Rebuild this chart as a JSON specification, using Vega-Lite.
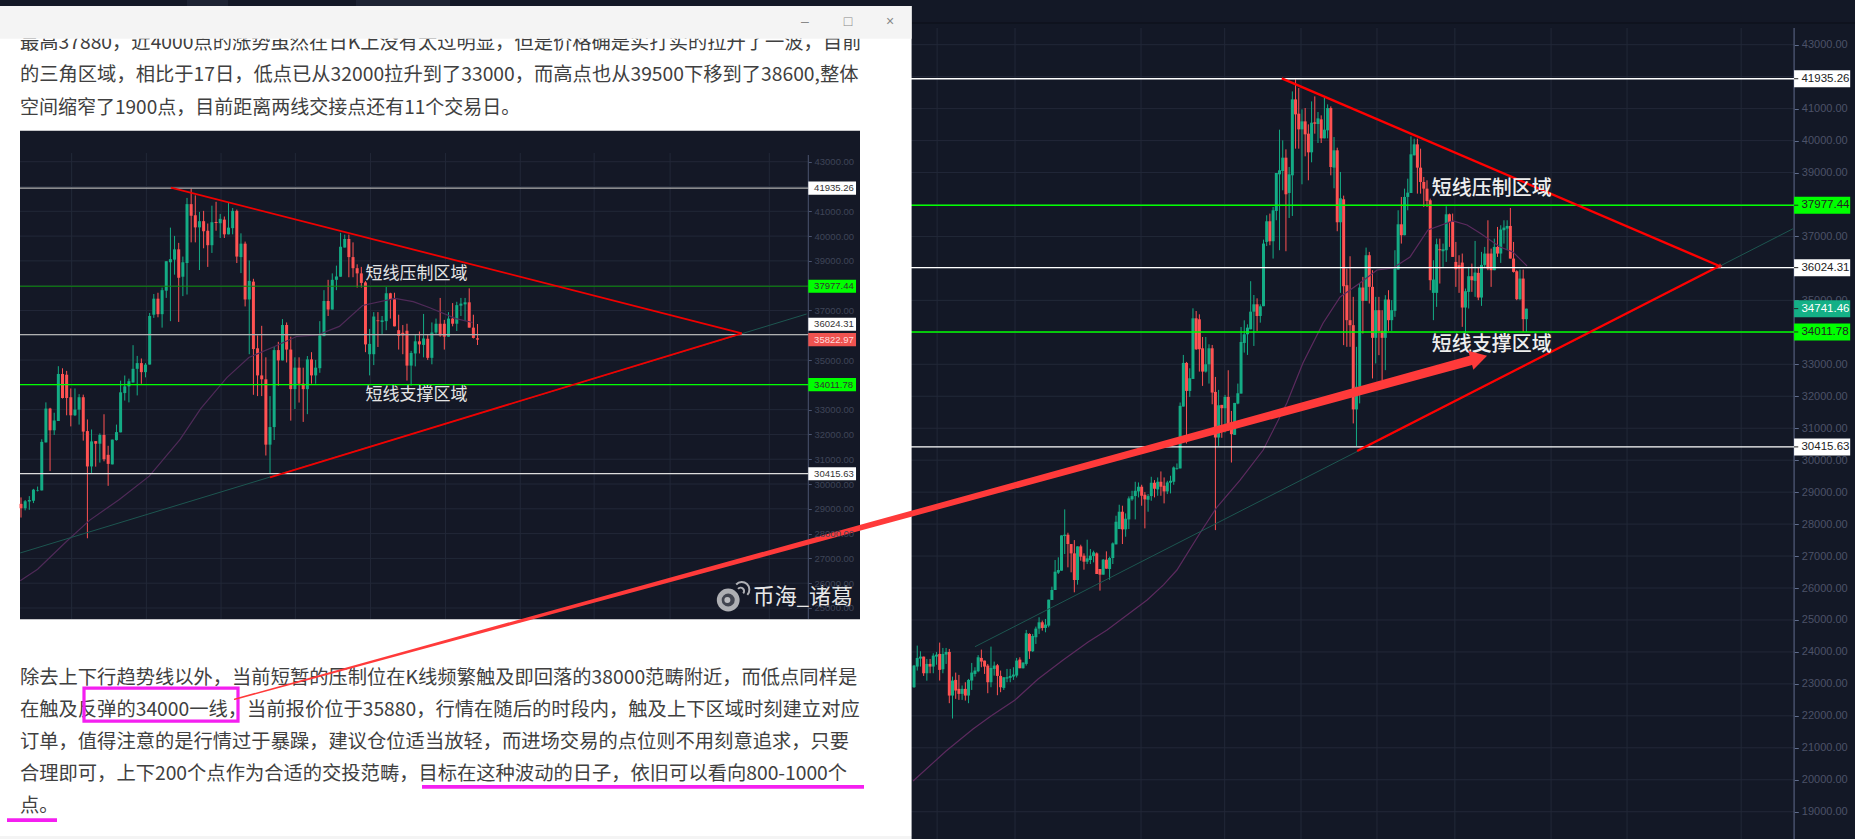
{"$schema":"https://vega.github.io/schema/vega-lite/v6.json","width":1855,"height":839,"padding":0,"autosize":{"type":"none"},"background":"#131826",
"config":{"view":{"stroke":null},"legend":{"disable":true},"text":{"font":"Noto Sans CJK SC"}},
"resolve":{"scale":{"x":"independent","y":"independent"},"axis":{"x":"independent","y":"independent"}},
"datasets":{
"candles":[
{"bar":1,"open":22896,"high":23594,"low":22875,"close":23573,"dir":"up"},{"bar":2,"open":23542,"high":24198,"low":23417,"close":23813,"dir":"up"},{"bar":3,"open":23792,"high":24021,"low":23542,"close":23854,"dir":"up"},{"bar":4,"open":23854,"high":23854,"low":23250,"close":23333,"dir":"down"},{"bar":5,"open":23333,"high":23781,"low":23100,"close":23625,"dir":"up"},{"bar":6,"open":23625,"high":23781,"low":23333,"close":23542,"dir":"down"},{"bar":7,"open":23542,"high":23958,"low":23333,"close":23885,"dir":"up"},{"bar":8,"open":23854,"high":24000,"low":23600,"close":23917,"dir":"up"},{"bar":9,"open":23938,"high":24292,"low":23104,"close":23438,"dir":"down"},{"bar":10,"open":23458,"high":24125,"low":23333,"close":23938,"dir":"up"},
{"bar":11,"open":23917,"high":24125,"low":23625,"close":24000,"dir":"up"},{"bar":12,"open":24000,"high":24094,"low":22396,"close":22635,"dir":"down"},{"bar":13,"open":22635,"high":23229,"low":21917,"close":23104,"dir":"up"},{"bar":14,"open":23125,"high":23354,"low":22531,"close":22792,"dir":"down"},{"bar":15,"open":22844,"high":23281,"low":22500,"close":22688,"dir":"down"},{"bar":16,"open":22688,"high":22950,"low":22500,"close":22844,"dir":"up"},{"bar":17,"open":22844,"high":23052,"low":22479,"close":22635,"dir":"down"},{"bar":18,"open":22635,"high":23156,"low":22396,"close":23125,"dir":"up"},{"bar":19,"open":23104,"high":23656,"low":22812,"close":23354,"dir":"up"},{"bar":20,"open":23312,"high":23521,"low":23229,"close":23417,"dir":"up"},
{"bar":21,"open":23396,"high":23900,"low":23365,"close":23833,"dir":"up"},{"bar":22,"open":23813,"high":24073,"low":23521,"close":23698,"dir":"down"},{"bar":23,"open":23729,"high":23729,"low":23312,"close":23542,"dir":"down"},{"bar":24,"open":23573,"high":23625,"low":22708,"close":23052,"dir":"down"},{"bar":25,"open":23052,"high":24167,"low":22896,"close":23500,"dir":"up"},{"bar":26,"open":23469,"high":23698,"low":23260,"close":23573,"dir":"up"},{"bar":27,"open":23583,"high":23625,"low":22646,"close":23250,"dir":"down"},{"bar":28,"open":23250,"high":23417,"low":22740,"close":22896,"dir":"down"},{"bar":29,"open":22875,"high":23208,"low":22812,"close":23208,"dir":"up"},{"bar":30,"open":23167,"high":23469,"low":23052,"close":23208,"dir":"up"},
{"bar":31,"open":23188,"high":23469,"low":23052,"close":23250,"dir":"up"},{"bar":32,"open":23229,"high":23521,"low":23125,"close":23292,"dir":"up"},{"bar":33,"open":23260,"high":23813,"low":23200,"close":23729,"dir":"up"},{"bar":34,"open":23760,"high":23833,"low":23490,"close":23490,"dir":"down"},{"bar":35,"open":23490,"high":23677,"low":23480,"close":23667,"dir":"up"},{"bar":36,"open":23625,"high":24688,"low":23573,"close":24584,"dir":"up"},{"bar":37,"open":24563,"high":24584,"low":23781,"close":24021,"dir":"down"},{"bar":38,"open":24021,"high":24563,"low":24000,"close":24500,"dir":"up"},{"bar":39,"open":24459,"high":24792,"low":24250,"close":24730,"dir":"up"},{"bar":40,"open":24730,"high":25084,"low":24563,"close":24927,"dir":"up"},
{"bar":41,"open":24927,"high":24980,"low":24667,"close":24750,"dir":"down"},{"bar":42,"open":24750,"high":25032,"low":24615,"close":24855,"dir":"up"},{"bar":43,"open":24823,"high":25636,"low":24771,"close":25636,"dir":"up"},{"bar":44,"open":25626,"high":26042,"low":25626,"close":25938,"dir":"up"},{"bar":45,"open":25938,"high":26876,"low":25938,"close":26511,"dir":"up"},{"bar":46,"open":26480,"high":26960,"low":26438,"close":26563,"dir":"up"},{"bar":47,"open":26543,"high":27647,"low":26543,"close":27647,"dir":"up"},{"bar":48,"open":27626,"high":28460,"low":27064,"close":27668,"dir":"up"},{"bar":49,"open":27668,"high":27730,"low":26647,"close":27376,"dir":"down"},{"bar":50,"open":27376,"high":27376,"low":26490,"close":27084,"dir":"down"},
{"bar":51,"open":27084,"high":27500,"low":25866,"close":26251,"dir":"down"},{"bar":52,"open":26251,"high":27303,"low":26105,"close":27303,"dir":"up"},{"bar":53,"open":27303,"high":27355,"low":26855,"close":26980,"dir":"down"},{"bar":54,"open":27012,"high":27084,"low":26574,"close":26824,"dir":"down"},{"bar":55,"open":26824,"high":27512,"low":26750,"close":26928,"dir":"up"},{"bar":56,"open":26876,"high":27220,"low":26750,"close":27012,"dir":"up"},{"bar":57,"open":27000,"high":27168,"low":26803,"close":27116,"dir":"up"},{"bar":58,"open":27084,"high":27116,"low":26438,"close":26438,"dir":"down"},{"bar":59,"open":26595,"high":26595,"low":25918,"close":26418,"dir":"down"},{"bar":60,"open":26418,"high":26908,"low":26418,"close":26887,"dir":"up"},
{"bar":61,"open":26887,"high":27147,"low":26605,"close":26605,"dir":"down"},{"bar":62,"open":26595,"high":26980,"low":26262,"close":26939,"dir":"up"},{"bar":63,"open":26939,"high":27428,"low":26751,"close":27397,"dir":"up"},{"bar":64,"open":27366,"high":28262,"low":27366,"close":28074,"dir":"up"},{"bar":65,"open":27845,"high":28606,"low":27845,"close":28387,"dir":"up"},{"bar":66,"open":28387,"high":28575,"low":27376,"close":27835,"dir":"down"},{"bar":67,"open":27835,"high":28335,"low":27605,"close":28168,"dir":"up"},{"bar":68,"open":28147,"high":28866,"low":27845,"close":28804,"dir":"up"},{"bar":69,"open":28773,"high":29043,"low":28730,"close":28877,"dir":"up"},{"bar":70,"open":28877,"high":29325,"low":28147,"close":29043,"dir":"up"},
{"bar":71,"open":29023,"high":29304,"low":28835,"close":29169,"dir":"up"},{"bar":72,"open":29169,"high":29231,"low":28575,"close":28887,"dir":"down"},{"bar":73,"open":28918,"high":29002,"low":27866,"close":28773,"dir":"down"},{"bar":74,"open":28763,"high":28939,"low":28387,"close":28877,"dir":"up"},{"bar":75,"open":28877,"high":29481,"low":28731,"close":29294,"dir":"up"},{"bar":76,"open":29294,"high":29377,"low":28835,"close":29106,"dir":"down"},{"bar":77,"open":29085,"high":29460,"low":28887,"close":29325,"dir":"up"},{"bar":78,"open":29325,"high":29648,"low":28887,"close":29169,"dir":"down"},{"bar":79,"open":29200,"high":29460,"low":28648,"close":29023,"dir":"down"},{"bar":80,"open":29023,"high":29356,"low":28939,"close":29304,"dir":"up"},
{"bar":81,"open":29294,"high":29513,"low":28960,"close":29356,"dir":"up"},{"bar":82,"open":29325,"high":29804,"low":29231,"close":29773,"dir":"up"},{"bar":83,"open":29731,"high":29898,"low":29700,"close":29752,"dir":"up"},{"bar":84,"open":29742,"high":31805,"low":29742,"close":31700,"dir":"up"},{"bar":85,"open":31678,"high":33293,"low":31678,"close":33043,"dir":"up"},{"bar":86,"open":33043,"high":33074,"low":30521,"close":32167,"dir":"down"},{"bar":87,"open":32167,"high":32876,"low":31980,"close":32563,"dir":"up"},{"bar":88,"open":32543,"high":34752,"low":32543,"close":34439,"dir":"up"},{"bar":89,"open":34439,"high":34668,"low":33449,"close":33470,"dir":"down"},{"bar":90,"open":34408,"high":34564,"low":32772,"close":33470,"dir":"down"},
{"bar":91,"open":33501,"high":33855,"low":32324,"close":32772,"dir":"down"},{"bar":92,"open":32772,"high":33855,"low":32741,"close":33001,"dir":"up"},{"bar":93,"open":33001,"high":33626,"low":32397,"close":33501,"dir":"up"},{"bar":94,"open":33501,"high":33605,"low":31750,"close":32115,"dir":"down"},{"bar":95,"open":32136,"high":32605,"low":27812,"close":30709,"dir":"down"},{"bar":96,"open":30709,"high":32199,"low":30448,"close":31719,"dir":"up"},{"bar":97,"open":31730,"high":31730,"low":30700,"close":31626,"dir":"down"},{"bar":98,"open":31626,"high":32042,"low":30865,"close":31980,"dir":"up"},{"bar":99,"open":31980,"high":32814,"low":30917,"close":31000,"dir":"down"},{"bar":100,"open":31178,"high":31542,"low":29927,"close":30813,"dir":"down"},
{"bar":101,"open":30792,"high":31792,"low":30792,"close":31792,"dir":"up"},{"bar":102,"open":31771,"high":32397,"low":31750,"close":32094,"dir":"up"},{"bar":103,"open":32084,"high":34168,"low":32084,"close":33699,"dir":"up"},{"bar":104,"open":33668,"high":34376,"low":33366,"close":33939,"dir":"up"},{"bar":105,"open":33939,"high":34251,"low":33293,"close":34147,"dir":"up"},{"bar":106,"open":34095,"high":35600,"low":34095,"close":34647,"dir":"up"},{"bar":107,"open":34647,"high":35168,"low":33574,"close":34877,"dir":"up"},{"bar":108,"open":34877,"high":35064,"low":34043,"close":34512,"dir":"down"},{"bar":109,"open":34512,"high":34877,"low":34303,"close":34814,"dir":"up"},{"bar":110,"open":34818,"high":36900,"low":34818,"close":36777,"dir":"up"},
{"bar":111,"open":36829,"high":37663,"low":36700,"close":37475,"dir":"up"},{"bar":112,"open":37475,"high":37715,"low":36725,"close":36850,"dir":"down"},{"bar":113,"open":36850,"high":37923,"low":36308,"close":37819,"dir":"up"},{"bar":114,"open":37798,"high":38986,"low":37507,"close":38986,"dir":"up"},{"bar":115,"open":38944,"high":40341,"low":36569,"close":39070,"dir":"up"},{"bar":116,"open":39049,"high":40007,"low":38444,"close":39465,"dir":"up"},{"bar":117,"open":39465,"high":39726,"low":36537,"close":38319,"dir":"down"},{"bar":118,"open":38361,"high":39174,"low":37579,"close":38944,"dir":"up"},{"bar":119,"open":38913,"high":41539,"low":37642,"close":41289,"dir":"up"},{"bar":120,"open":41289,"high":41914,"low":39747,"close":40820,"dir":"down"},
{"bar":121,"open":40841,"high":41643,"low":39747,"close":40351,"dir":"down"},{"bar":122,"open":40351,"high":40976,"low":38632,"close":40601,"dir":"up"},{"bar":123,"open":40601,"high":41018,"low":39507,"close":40195,"dir":"down"},{"bar":124,"open":40216,"high":40507,"low":38757,"close":39632,"dir":"down"},{"bar":125,"open":39632,"high":41226,"low":39320,"close":40560,"dir":"up"},{"bar":126,"open":40570,"high":41383,"low":40216,"close":40528,"dir":"down"},{"bar":127,"open":40518,"high":40893,"low":39924,"close":40695,"dir":"up"},{"bar":128,"open":40664,"high":40789,"low":39924,"close":40070,"dir":"down"},{"bar":129,"open":40070,"high":41341,"low":40070,"close":40341,"dir":"up"},{"bar":130,"open":40320,"high":41133,"low":40070,"close":41018,"dir":"up"},
{"bar":131,"open":41018,"high":41070,"low":38913,"close":39174,"dir":"down"},{"bar":132,"open":39153,"high":40111,"low":38507,"close":39695,"dir":"up"},{"bar":133,"open":39695,"high":39778,"low":37163,"close":37444,"dir":"down"},{"bar":134,"open":37444,"high":39018,"low":35235,"close":38194,"dir":"up"},{"bar":135,"open":38163,"high":38278,"low":33599,"close":35443,"dir":"down"},{"bar":136,"open":35475,"high":35996,"low":33547,"close":34381,"dir":"down"},{"bar":137,"open":34381,"high":36381,"low":33547,"close":34224,"dir":"down"},{"bar":138,"open":34224,"high":35110,"low":31150,"close":31588,"dir":"down"},{"bar":139,"open":31588,"high":33547,"low":30442,"close":32297,"dir":"up"},{"bar":140,"open":32297,"high":35527,"low":31776,"close":35402,"dir":"up"},
{"bar":141,"open":35402,"high":35735,"low":33964,"close":34985,"dir":"down"},{"bar":142,"open":34985,"high":36652,"low":34985,"close":36413,"dir":"up"},{"bar":143,"open":36413,"high":36517,"low":34902,"close":35423,"dir":"down"},{"bar":144,"open":35423,"high":35944,"low":32557,"close":33828,"dir":"down"},{"bar":145,"open":33828,"high":35110,"low":33026,"close":34693,"dir":"up"},{"bar":146,"open":34693,"high":35110,"low":33286,"close":34047,"dir":"down"},{"bar":147,"open":34047,"high":34693,"low":32505,"close":33828,"dir":"down"},{"bar":148,"open":33828,"high":35162,"low":32817,"close":35027,"dir":"up"},{"bar":149,"open":35027,"high":35318,"low":34047,"close":34381,"dir":"down"},{"bar":150,"open":34381,"high":35006,"low":34047,"close":34693,"dir":"up"},
{"bar":151,"open":34672,"high":36569,"low":34485,"close":35996,"dir":"up"},{"bar":152,"open":35964,"high":37819,"low":35964,"close":37381,"dir":"up"},{"bar":153,"open":37381,"high":38236,"low":36777,"close":37038,"dir":"down"},{"bar":154,"open":37038,"high":38496,"low":37038,"close":38236,"dir":"up"},{"bar":155,"open":38236,"high":38809,"low":37819,"close":38371,"dir":"up"},{"bar":156,"open":38361,"high":40132,"low":38361,"close":39570,"dir":"up"},{"bar":157,"open":39538,"high":40059,"low":39538,"close":39882,"dir":"up"},{"bar":158,"open":39882,"high":40059,"low":38340,"close":39153,"dir":"down"},{"bar":159,"open":39153,"high":39747,"low":38340,"close":38705,"dir":"down"},{"bar":160,"open":38705,"high":38861,"low":37923,"close":38496,"dir":"down"},
{"bar":161,"open":38496,"high":38757,"low":37923,"close":38111,"dir":"down"},{"bar":162,"open":38132,"high":38184,"low":35318,"close":35631,"dir":"down"},{"bar":163,"open":35235,"high":36256,"low":34381,"close":35652,"dir":"up"},{"bar":164,"open":35235,"high":36933,"low":34797,"close":36756,"dir":"up"},{"bar":165,"open":36600,"high":36933,"low":35527,"close":36569,"dir":"down"},{"bar":166,"open":36537,"high":36777,"low":36048,"close":36600,"dir":"up"},{"bar":167,"open":36569,"high":37944,"low":36204,"close":37694,"dir":"up"},{"bar":168,"open":37694,"high":37715,"low":36673,"close":37454,"dir":"down"},{"bar":169,"open":37454,"high":37715,"low":36360,"close":36360,"dir":"down"},{"bar":170,"open":36204,"high":36829,"low":35423,"close":35975,"dir":"down"},
{"bar":171,"open":36100,"high":36412,"low":35235,"close":35996,"dir":"down"},{"bar":172,"open":36183,"high":36465,"low":34172,"close":34776,"dir":"down"},{"bar":173,"open":34776,"high":35370,"low":33964,"close":35287,"dir":"up"},{"bar":174,"open":35266,"high":36048,"low":34745,"close":35756,"dir":"up"},{"bar":175,"open":35756,"high":36152,"low":35266,"close":35631,"dir":"down"},{"bar":176,"open":35610,"high":36860,"low":35110,"close":35871,"dir":"up"},{"bar":177,"open":35860,"high":36048,"low":35006,"close":35089,"dir":"down"},{"bar":178,"open":35089,"high":36517,"low":34828,"close":36110,"dir":"up"},{"bar":179,"open":36110,"high":36673,"low":36048,"close":36465,"dir":"up"},{"bar":180,"open":36465,"high":37506,"low":35944,"close":35996,"dir":"down"},
{"bar":181,"open":36465,"high":36621,"low":35423,"close":35944,"dir":"down"},{"bar":182,"open":35944,"high":36933,"low":35944,"close":36673,"dir":"up"},{"bar":183,"open":36673,"high":37298,"low":36360,"close":36465,"dir":"down"},{"bar":184,"open":36465,"high":37350,"low":36173,"close":37215,"dir":"up"},{"bar":185,"open":37194,"high":37506,"low":36777,"close":37277,"dir":"up"},{"bar":186,"open":37246,"high":37506,"low":36569,"close":37329,"dir":"up"},{"bar":187,"open":37329,"high":37892,"low":36308,"close":36308,"dir":"down"},{"bar":188,"open":36308,"high":36829,"low":35870,"close":35891,"dir":"down"},{"bar":189,"open":35912,"high":35944,"low":35006,"close":35037,"dir":"down"},{"bar":190,"open":35037,"high":35964,"low":35006,"close":35683,"dir":"up"},
{"bar":191,"open":35683,"high":35964,"low":34016,"close":34412,"dir":"down"},{"bar":192,"open":34412,"high":34741,"low":34016,"close":34741,"dir":"up"}],
"leftLast":[{"bar":189,"open":35880,"high":36454,"low":35607,"close":35823,"dir":"down"}],
"ma":[{"bar":0.7,"price":19961},{"bar":11,"price":20900},{"bar":19.4,"price":21588},{"bar":25,"price":21995},{"bar":32.5,"price":22496},{"bar":39.7,"price":23153},{"bar":47.5,"price":23747},{"bar":55.3,"price":24310},{"bar":61.2,"price":24686},{"bar":73.7,"price":25625},{"bar":78.8,"price":26100},{"bar":83,"price":26563},{"bar":90.2,"price":27721},{"bar":95.5,"price":28535},{"bar":102.7,"price":29379},{"bar":109.9,"price":30318},{"bar":117.3,"price":31789},{"bar":122.3,"price":33040},{"bar":128.6,"price":34292},{"bar":133.9,"price":35105},{"bar":140.1,"price":35544},{"bar":145.4,"price":35950},{"bar":150.4,"price":36013},{"bar":155.7,"price":36357},{"bar":161.3,"price":37202},{"bar":169.1,"price":37484},{"bar":173.5,"price":37358},{"bar":177.5,"price":37108},{"bar":183.8,"price":36670},{"bar":187.8,"price":36514},{"bar":192.2,"price":36076}],
"hgrid":[{"price":43000},{"price":42000},{"price":41000},{"price":40000},{"price":39000},{"price":38000},{"price":37000},{"price":36000},{"price":35000},{"price":34000},{"price":33000},{"price":32000},{"price":31000},{"price":30000},{"price":29000},{"price":28000},{"price":27000},{"price":26000},{"price":25000},{"price":24000},{"price":23000},{"price":22000},{"price":21000},{"price":20000},{"price":19000}],
"boxes":[
{"chart":"main","label":"41935.26","pos":41935.26,"lo":41669,"hi":42201,"kind":"white"},
{"chart":"main","label":"37977.44","pos":37977.44,"lo":37711,"hi":38243,"kind":"lime"},
{"chart":"main","label":"36024.31","pos":36024.31,"lo":35758,"hi":36290,"kind":"white"},
{"chart":"main","label":"34741.46","pos":34741.46,"lo":34475,"hi":35007,"kind":"teal"},
{"chart":"main","label":"34011.78","pos":34011.78,"lo":33746,"hi":34278,"kind":"lime"},
{"chart":"main","label":"30415.63","pos":30415.63,"lo":30150,"hi":30682,"kind":"white"},
{"chart":"left","label":"41935.26","pos":41935.26,"lo":41670,"hi":42200,"kind":"white"},
{"chart":"left","label":"37977.44","pos":37977.44,"lo":37712,"hi":38242,"kind":"lime"},
{"chart":"left","label":"36024.31","pos":36442,"lo":36177,"hi":36707,"kind":"white"},
{"chart":"left","label":"35822.97","pos":35822.97,"lo":35558,"hi":36088,"kind":"red"},
{"chart":"left","label":"34011.78","pos":34011.78,"lo":33746,"hi":34277,"kind":"lime"},
{"chart":"left","label":"30415.63","pos":30415.63,"lo":30150,"hi":30681,"kind":"white"}],
"zones":[{"name":"短线压制区域","price":38478},{"name":"短线支撑区域","price":33590}]
},
"layer":[
{"layer":[
{"data":{"values":[{"bar":8.2},{"bar":32.5},{"bar":71.8},{"bar":97.9},{"bar":121.7},{"bar":145.4},{"bar":169.7},{"bar":199.7},{"bar":223.4},{"bar":259}]},"mark":{"type":"rule","color":"#222838","strokeWidth":1},
"encoding":{"x":{"field":"bar","type":"quantitative","axis":null,"scale":{"domain":[-284.1,294.5],"nice":false,"zero":false}},
"y":{"datum":43523,"type":"quantitative","title":null,"scale":{"domain":[18147,44398.6],"nice":false,"zero":false},
"axis":{"orient":"right","offset":-60.7,"title":null,"grid":false,"domain":false,"tickSize":4,"tickColor":"#5f6c8c","labelColor":"#4c5268","labelFont":"Liberation Sans","labelFontSize":11,"labelPadding":3,"format":".2f","labelOverlap":false,"labelBound":false,"labelFlush":false,"values":[43000,41000,40000,39000,37000,35000,33000,32000,31000,30000,29000,28000,27000,26000,25000,24000,23000,22000,21000,20000,19000]}},
"y2":{"datum":18147}}},
{"data":{"name":"hgrid"},"mark":{"type":"rule","color":"#222838","strokeWidth":1},"encoding":{"x":{"datum":-285,"type":"quantitative"},"x2":{"datum":275.5},"y":{"field":"price","type":"quantitative"}}},
{"data":{"values":[{"price":43679}]},"mark":{"type":"rule","color":"#0c0f18","strokeWidth":1},"encoding":{"x":{"datum":-285,"type":"quantitative"},"x2":{"datum":294.5},"y":{"field":"price","type":"quantitative"}}},
{"data":{"values":[{"top":43523,"bottom":18147}]},"mark":{"type":"rule","color":"#5f6c8c","strokeWidth":1},"encoding":{"x":{"datum":275.5,"type":"quantitative"},"y":{"field":"top","type":"quantitative"},"y2":{"field":"bottom"}}},
{"data":{"name":"candles"},"mark":{"type":"rule","strokeWidth":1},"encoding":{"x":{"field":"bar","type":"quantitative"},"y":{"field":"low","type":"quantitative"},"y2":{"field":"high"},
"color":{"field":"dir","type":"nominal","scale":{"domain":["up","down","white","lime","teal","red","gray","dgreen","pale"],"range":["#14ac85","#ff5252","#ffffff","#00ff00","#14b086","#ef5350","#b0b0b0","#0d8c0d","#dddddd"]}}}},
{"data":{"name":"candles"},"mark":{"type":"rule","strokeWidth":3},"encoding":{"x":{"field":"bar","type":"quantitative"},"y":{"field":"open","type":"quantitative"},"y2":{"field":"close"},"color":{"field":"dir","type":"nominal"}}},
{"data":{"name":"ma"},"mark":{"type":"line","color":"#5c2a5e","strokeWidth":1.2},"encoding":{"x":{"field":"bar","type":"quantitative"},"y":{"field":"price","type":"quantitative"}}},
{"data":{"values":[{"bar":20,"price":24163},{"bar":275.2,"price":37243}]},"mark":{"type":"line","color":"#1d5650","strokeWidth":1},"encoding":{"x":{"field":"bar","type":"quantitative"},"y":{"field":"price","type":"quantitative"}}},
{"data":{"values":[{"price":41935.26,"kind":"white"},{"price":37977.44,"kind":"lime"},{"price":36024.31,"kind":"white"},{"price":34011.78,"kind":"lime"},{"price":30415.63,"kind":"white"}]},"mark":{"type":"rule","strokeWidth":1.4},"encoding":{"x":{"datum":-285,"type":"quantitative"},"x2":{"datum":275.5},"y":{"field":"price","type":"quantitative"},"color":{"field":"kind","type":"nominal"}}},
{"data":{"values":[{"bar":139.2,"price":30287},{"bar":252.2,"price":36076}]},"mark":{"type":"line","color":"#ff0000","strokeWidth":2.4},"encoding":{"x":{"field":"bar","type":"quantitative"},"y":{"field":"price","type":"quantitative"}}},
{"data":{"values":[{"bar":115.7,"price":41949},{"bar":252.2,"price":36076}]},"mark":{"type":"line","color":"#ff0000","strokeWidth":2.4},"encoding":{"x":{"field":"bar","type":"quantitative"},"y":{"field":"price","type":"quantitative"}}},
{"data":{"values":[{"bar":252.4,"price":36076}]},"mark":{"type":"point","shape":"cross","filled":true,"color":"#ff2020","size":18},"encoding":{"x":{"field":"bar","type":"quantitative"},"y":{"field":"price","type":"quantitative"}}},
{"data":{"name":"boxes"},"transform":[{"filter":"datum.chart==='main'"}],"mark":{"type":"rect"},"encoding":{"x":{"datum":275.5,"type":"quantitative"},"x2":{"datum":293},"y":{"field":"lo","type":"quantitative"},"y2":{"field":"hi"},"color":{"field":"kind","type":"nominal"}}},
{"data":{"name":"boxes"},"transform":[{"filter":"datum.chart==='main'"}],"mark":{"type":"rule","color":"#222222","strokeWidth":1},"encoding":{"x":{"datum":275.5,"type":"quantitative"},"x2":{"datum":276.8},"y":{"field":"pos","type":"quantitative"}}},
{"data":{"name":"boxes"},"transform":[{"filter":"datum.chart==='main'"}],"mark":{"type":"text","align":"left","baseline":"middle","font":"Liberation Sans","fontSize":11.5},"encoding":{"x":{"datum":277.8,"type":"quantitative"},"y":{"field":"pos","type":"quantitative"},"text":{"field":"label","type":"nominal"},"color":{"condition":{"test":"datum.kind==='teal'","value":"#ffffff"},"value":"#222222"},"fontWeight":{"condition":{"test":"datum.kind==='teal'","value":"bold"},"value":"normal"}}},
{"data":{"name":"zones"},"mark":{"type":"text","align":"left","baseline":"middle","font":"Noto Sans CJK SC","fontSize":20,"color":"#eeeeee","fontWeight":500},"encoding":{"x":{"datum":162.5,"type":"quantitative"},"y":{"field":"price","type":"quantitative"},"text":{"field":"name","type":"nominal"}}}
]},
{"layer":[
{"data":{"values":[{"x0":0,"x1":911.6,"l0":-1.1875,"l1":24.75}]},"mark":{"type":"rect","color":"#ffffff"},"encoding":{"x":{"field":"x0","type":"quantitative","axis":null,"scale":{"domain":[0,1855],"nice":false,"zero":false}},"x2":{"field":"x1"},"y":{"field":"l0","type":"quantitative","axis":null,"scale":{"domain":[-1.375,24.84],"nice":false,"zero":false,"reverse":true}},"y2":{"field":"l1"}}},
{"data":{"values":[{"x0":187,"x1":228,"l0":-1.375,"l1":-1.1875},{"x0":356,"x1":450,"l0":-1.375,"l1":-1.1875}]},"mark":{"type":"rect","color":"#1d2333"},"encoding":{"x":{"field":"x0","type":"quantitative"},"x2":{"field":"x1"},"y":{"field":"l0","type":"quantitative"},"y2":{"field":"l1"}}},
{"data":{"values":[{"line":-0.03,"text":"最高37880，近4000点的涨势虽然在日K上没有太过明显，但是价格确是实打实的拉升了一波，目前"},{"line":0.97,"text":"的三角区域，相比于17日，低点已从32000拉升到了33000，而高点也从39500下移到了38600,整体"},{"line":2,"text":"空间缩窄了1900点，目前距离两线交接点还有11个交易日。"},{"line":19.8,"text":"除去上下行趋势线以外，当前短暂的压制位在K线频繁触及即回落的38000范畴附近，而低点同样是"},{"line":20.8,"text":"在触及反弹的34000一线，当前报价位于35880，行情在随后的时段内，触及上下区域时刻建立对应"},{"line":21.8,"text":"订单，值得注意的是行情过于暴躁，建议仓位适当放轻，而进场交易的点位则不用刻意追求，只要"},{"line":22.8,"text":"合理即可，上下200个点作为合适的交投范畴，目标在这种波动的日子，依旧可以看向800-1000个"},{"line":23.8,"text":"点。"}]},"mark":{"type":"text","align":"left","baseline":"middle","font":"Noto Sans CJK SC","color":"#404040"},"encoding":{"x":{"datum":20,"type":"quantitative"},"y":{"field":"line","type":"quantitative"},"text":{"field":"text","type":"nominal"},"size":{"condition":{"test":"datum.line===2","value":19},"value":19.3}}},
{"data":{"values":[{"x0":0,"x1":911.6,"l0":-1.1875,"l1":-0.166,"fill":"bar"},{"x0":0,"x1":911.6,"l0":24.75,"l1":24.84,"fill":"bar"}]},"mark":{"type":"rect","color":"#f4f4f4"},"encoding":{"x":{"field":"x0","type":"quantitative"},"x2":{"field":"x1"},"y":{"field":"l0","type":"quantitative"},"y2":{"field":"l1"}}},
{"data":{"values":[{"x":805,"line":-0.6875,"glyph":"–"},{"x":848,"line":-0.6875,"glyph":"□"},{"x":890,"line":-0.6875,"glyph":"×"}]},"mark":{"type":"text","align":"center","baseline":"middle","font":"Liberation Sans","fontSize":14,"color":"#888888"},"encoding":{"x":{"field":"x","type":"quantitative"},"y":{"field":"line","type":"quantitative"},"text":{"field":"glyph","type":"nominal"}}},
{"data":{"values":[{"x0":20,"x1":860,"l0":2.709,"l1":17.97}]},"mark":{"type":"rect","color":"#141826"},"encoding":{"x":{"field":"x0","type":"quantitative"},"x2":{"field":"x1"},"y":{"field":"l0","type":"quantitative"},"y2":{"field":"l1"}}},
{"data":{"values":[{"x0":84,"x1":238,"l0":20.125,"l1":21.156}]},"mark":{"type":"rect","filled":false,"stroke":"#f41ff0","strokeWidth":3.2},"encoding":{"x":{"field":"x0","type":"quantitative"},"x2":{"field":"x1"},"y":{"field":"l0","type":"quantitative"},"y2":{"field":"l1"}}},
{"data":{"values":[{"x0":422,"x1":864,"line":23.21},{"x0":7,"x1":57,"line":24.25}]},"mark":{"type":"rule","color":"#f41ff0","strokeWidth":3.8},"encoding":{"x":{"field":"x0","type":"quantitative"},"x2":{"field":"x1"},"y":{"field":"line","type":"quantitative"}}}
]},
{"layer":[
{"data":{"values":[{"bar":91.2},{"bar":109.2},{"bar":127.2},{"bar":145.1},{"bar":163.2},{"bar":181.3},{"bar":199.3},{"bar":217.1},{"bar":235.4},{"bar":259.3}]},"mark":{"type":"rule","color":"#222838","strokeWidth":1},
"encoding":{"x":{"field":"bar","type":"quantitative","axis":null,"scale":{"domain":[73.94,520.9],"nice":false,"zero":false}},
"y":{"datum":43350,"type":"quantitative","title":null,"scale":{"domain":[15683,49522],"nice":false,"zero":false},
"axis":{"orient":"right","offset":-1046.7,"title":null,"grid":false,"domain":false,"zindex":1,"tickSize":3,"tickColor":"#4a5470","labelColor":"#3f4558","labelFont":"Liberation Sans","labelFontSize":9.5,"labelPadding":2.7,"format":".2f","labelOverlap":false,"labelBound":false,"labelFlush":false,"values":[43000,41000,40000,39000,37000,35000,33000,32000,31000,30000,29000,28000,27000,26000,25000]}},
"y2":{"datum":24557}}},
{"data":{"name":"hgrid"},"transform":[{"filter":"datum.price>=25000"}],"mark":{"type":"rule","color":"#222838","strokeWidth":1},"encoding":{"x":{"datum":78.76,"type":"quantitative"},"x2":{"datum":268.7},"y":{"field":"price","type":"quantitative"}}},
{"data":{"values":[{"top":43270,"bottom":24557}]},"mark":{"type":"rule","color":"#4a5470","strokeWidth":1},"encoding":{"x":{"datum":268.7,"type":"quantitative"},"y":{"field":"top","type":"quantitative"},"y2":{"field":"bottom"}}},
{"data":{"name":"candles"},"transform":[{"filter":"datum.bar>=79 && datum.bar<=188"}],"mark":{"type":"rule","strokeWidth":1},"encoding":{"x":{"field":"bar","type":"quantitative"},"y":{"field":"low","type":"quantitative"},"y2":{"field":"high"},"color":{"field":"dir","type":"nominal"}}},
{"data":{"name":"leftLast"},"mark":{"type":"rule","strokeWidth":1},"encoding":{"x":{"field":"bar","type":"quantitative"},"y":{"field":"low","type":"quantitative"},"y2":{"field":"high"},"color":{"field":"dir","type":"nominal"}}},
{"data":{"name":"candles"},"transform":[{"filter":"datum.bar>=79 && datum.bar<=188"}],"mark":{"type":"rule","strokeWidth":3},"encoding":{"x":{"field":"bar","type":"quantitative"},"y":{"field":"open","type":"quantitative"},"y2":{"field":"close"},"color":{"field":"dir","type":"nominal"}}},
{"data":{"name":"leftLast"},"mark":{"type":"rule","strokeWidth":3},"encoding":{"x":{"field":"bar","type":"quantitative"},"y":{"field":"open","type":"quantitative"},"y2":{"field":"close"},"color":{"field":"dir","type":"nominal"}}},
{"data":{"name":"ma"},"transform":[{"filter":"datum.bar>=78.8 && datum.bar<=188"}],"mark":{"type":"line","color":"#4f2a58","strokeWidth":1.2},"encoding":{"x":{"field":"bar","type":"quantitative"},"y":{"field":"price","type":"quantitative"}}},
{"data":{"values":[{"bar":78.8,"price":27219},{"bar":268.3,"price":36858}]},"mark":{"type":"line","color":"#1d5650","strokeWidth":1},"encoding":{"x":{"field":"bar","type":"quantitative"},"y":{"field":"price","type":"quantitative"}}},
{"data":{"values":[{"price":41935.26,"kind":"gray"},{"price":37977.44,"kind":"dgreen"},{"price":36024.31,"kind":"gray"},{"price":34011.78,"kind":"lime"},{"price":30415.63,"kind":"pale"}]},"mark":{"type":"rule","strokeWidth":1.2},"encoding":{"x":{"datum":78.76,"type":"quantitative"},"x2":{"datum":268.7},"y":{"field":"price","type":"quantitative"},"color":{"field":"kind","type":"nominal"}}},
{"data":{"values":[{"bar":139,"price":30272},{"bar":252.7,"price":36079}]},"mark":{"type":"line","color":"#f00000","strokeWidth":1.8},"encoding":{"x":{"field":"bar","type":"quantitative"},"y":{"field":"price","type":"quantitative"}}},
{"data":{"values":[{"bar":115.1,"price":41951},{"bar":252.7,"price":36079}]},"mark":{"type":"line","color":"#f00000","strokeWidth":1.8},"encoding":{"x":{"field":"bar","type":"quantitative"},"y":{"field":"price","type":"quantitative"}}},
{"data":{"name":"boxes"},"transform":[{"filter":"datum.chart==='left'"}],"mark":{"type":"rect"},"encoding":{"x":{"datum":268.7,"type":"quantitative"},"x2":{"datum":280.2},"y":{"field":"lo","type":"quantitative"},"y2":{"field":"hi"},"color":{"field":"kind","type":"nominal"}}},
{"data":{"name":"boxes"},"transform":[{"filter":"datum.chart==='left'"}],"mark":{"type":"text","align":"left","baseline":"middle","font":"Liberation Sans","fontSize":9.5},"encoding":{"x":{"datum":270.1,"type":"quantitative"},"y":{"field":"pos","type":"quantitative"},"text":{"field":"label","type":"nominal"},"color":{"condition":{"test":"datum.kind==='red'","value":"#ffdddd"},"value":"#333333"}}},
{"data":{"name":"zones"},"mark":{"type":"text","align":"left","baseline":"middle","font":"Noto Sans CJK SC","fontSize":17,"color":"#e4e4e4"},"encoding":{"x":{"datum":162,"type":"quantitative"},"y":{"field":"price","type":"quantitative"},"text":{"field":"name","type":"nominal"}}},
{"data":{"values":[{"text":"币海_诸葛","price":25457}]},"mark":{"type":"text","align":"left","baseline":"middle","font":"Noto Sans CJK SC","fontSize":22,"color":"#e8e8e8"},"encoding":{"x":{"datum":255.3,"type":"quantitative"},"y":{"field":"price","type":"quantitative"},"text":{"field":"text","type":"nominal"}}},
{"data":{"values":[{"price":25322}]},"mark":{"type":"point","shape":"circle","filled":true,"color":"#f0f0f0","size":520},"encoding":{"x":{"datum":249.4,"type":"quantitative"},"y":{"field":"price","type":"quantitative"}}},
{"data":{"values":[{"price":25322}]},"mark":{"type":"point","shape":"circle","filled":true,"color":"#141826","size":170},"encoding":{"x":{"datum":249.4,"type":"quantitative"},"y":{"field":"price","type":"quantitative"}}},
{"data":{"values":[{"price":25322}]},"mark":{"type":"point","shape":"circle","filled":true,"color":"#f0f0f0","size":36},"encoding":{"x":{"datum":249.2,"type":"quantitative"},"y":{"field":"price","type":"quantitative"}}},
{"data":{"values":[{"price":25680}]},"mark":{"type":"point","shape":"M-0.6,-0.9 A1,1 0 0 1 0.9,0.5 M-0.35,-0.3 A0.45,0.45 0 0 1 0.35,0.3","filled":false,"stroke":"#f0f0f0","strokeWidth":2,"size":220},"encoding":{"x":{"datum":252.4,"type":"quantitative"},"y":{"field":"price","type":"quantitative"}}}
]},
{"layer":[
{"data":{"values":[{"bar":-210.9,"price":22518,"w":1.5},{"bar":-12.7,"price":27971,"w":5.5},{"bar":174.4,"price":33115,"w":9.5}]},"mark":{"type":"trail","color":"#ff3a3a"},"encoding":{"x":{"field":"bar","type":"quantitative","axis":null,"scale":{"domain":[-284.1,294.5],"nice":false,"zero":false}},"y":{"field":"price","type":"quantitative","axis":null,"scale":{"domain":[18147,44398.6],"nice":false,"zero":false}},"size":{"field":"w","type":"quantitative","scale":null}}},
{"data":{"values":[{"bar":177.2,"price":33197}]},"mark":{"type":"point","shape":"triangle-right","filled":true,"color":"#ff3a3a","size":380,"angle":-15.3,"opacity":1},"encoding":{"x":{"field":"bar","type":"quantitative"},"y":{"field":"price","type":"quantitative"}}}
]}
]}
